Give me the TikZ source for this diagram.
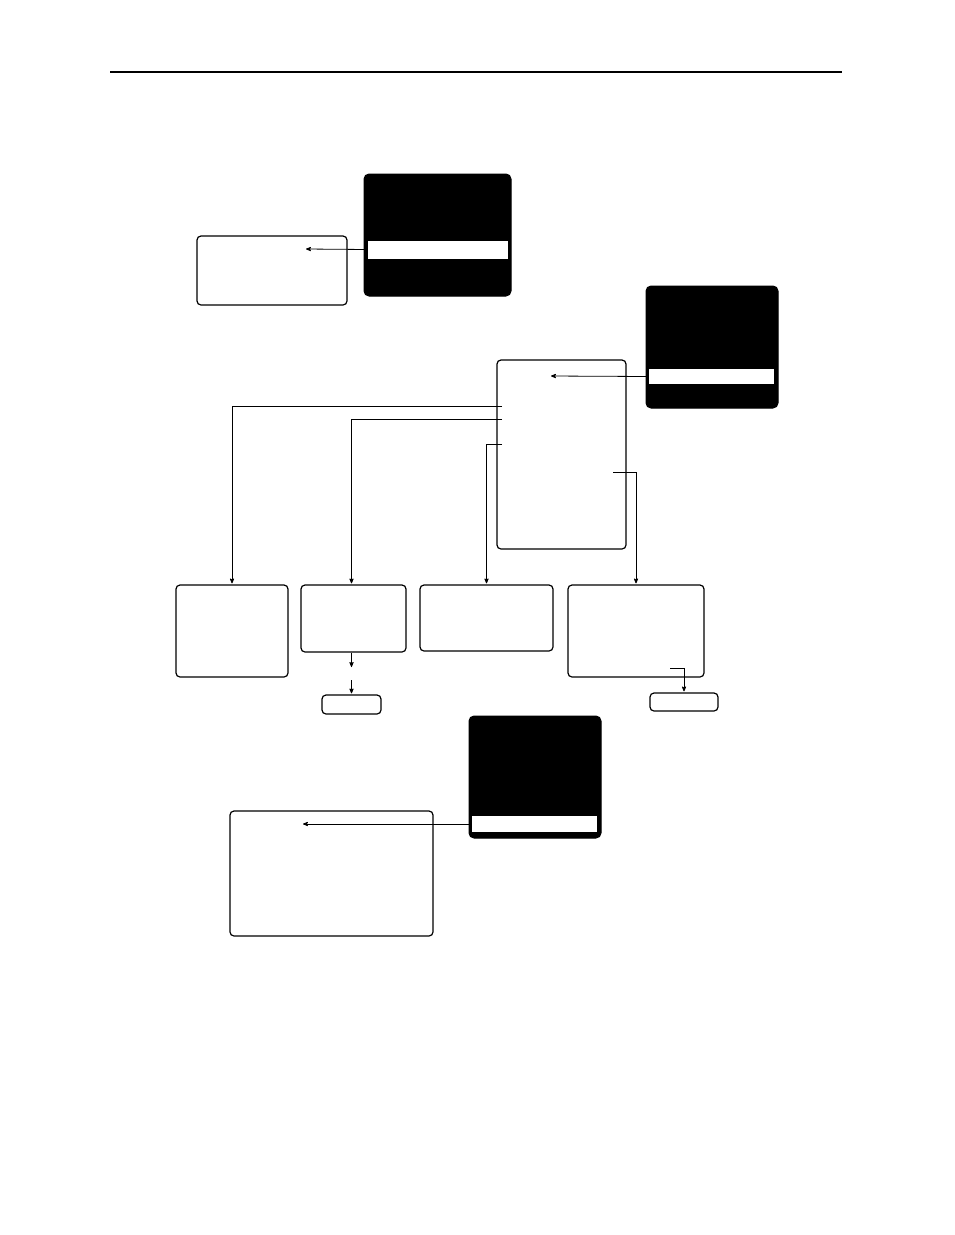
\documentclass[tikz,border=0pt]{standalone}
\usepackage{tikz}
\usetikzlibrary{arrows,positioning}

\begin{document}
\begin{tikzpicture}[x=1pt,y=-1pt,>=stealth',shorten >=1pt,
  menu node/.style={rectangle,rounded corners=5pt,fill=black,draw=black,
  line width=1pt,inner sep=0pt},
  bar node/.style={rectangle,fill=white,inner sep=0pt},
  screen node/.style={rectangle,rounded corners=4pt,draw,line width=1.2pt,
  inner sep=0pt},
  link/.style={->,line width=0.8pt}]

  \useasboundingbox (0,0) rectangle (954,1235);
  \draw[line width=1.2pt] (110,72) -- (843,72);

  % top menu and its screen
  \node[menu node,minimum width=147pt,minimum height=122pt] (M1) at (437.5,235) {};
  \node[bar node,minimum width=140pt,minimum height=18pt] (bar1) at (438,249.5) {};
  \node[screen node,minimum width=150pt,minimum height=69pt] (A) at (272,270.5) {};
  \coordinate (a1) at (305,249);
  \draw[link] (bar1.west) -- (a1);

  % second menu and main screen
  \node[menu node,minimum width=132pt,minimum height=122pt] (M2) at (712,347) {};
  \node[bar node,minimum width=125pt,minimum height=15pt] (bar2) at (711.5,376.5) {};
  \node[screen node,minimum width=129pt,minimum height=189pt] (main) at (561.5,454.5) {};
  \coordinate (a2) at (550,376);
  \draw[link] (bar2.west) -- (a2);

  % sub screens
  \node[screen node,minimum width=112pt,minimum height=92pt] (B1) at (232,631) {};
  \node[screen node,minimum width=105pt,minimum height=67pt] (B2) at (353.5,618.5) {};
  \node[screen node,minimum width=133pt,minimum height=66pt] (B3) at (486.5,618) {};
  \node[screen node,minimum width=136pt,minimum height=92pt] (B4) at (636,631) {};
  \node[screen node,minimum width=59pt,minimum height=19pt] (S1) at (351.5,704.5) {};
  \node[screen node,minimum width=68pt,minimum height=18pt] (S2) at (684,702) {};

  \coordinate (m1) at (502,406);
  \coordinate (m2) at (502,419);
  \coordinate (m3) at (502,444);
  \coordinate (m4) at (613,472);
  \draw[link] (m1) -| (B1.north);
  \draw[link] (m2) -| (S1.north |- B2.north);
  \draw[link] (m3) -| (B3.north);
  \draw[link] (m4) -| (B4.north);

  \coordinate (b2a) at (351.5,668);
  \coordinate (b2b) at (351.5,680);
  \coordinate (b4a) at (670,668);
  \draw[link] (b2a |- B2.south) -- (b2a);
  \draw[link] (b2b) -- (S1.north);
  \draw[link] (b4a) -| (S2.north);

  % bottom menu and its screen
  \node[menu node,minimum width=132pt,minimum height=122pt] (M3) at (535,777) {};
  \node[bar node,minimum width=125pt,minimum height=16pt] (bar3) at (534.5,824) {};
  \node[screen node,minimum width=203pt,minimum height=125pt] (C) at (331.5,873.5) {};
  \coordinate (a3) at (302,824);
  \draw[link] (bar3.west) -- (a3);

\end{tikzpicture}
\end{document}
